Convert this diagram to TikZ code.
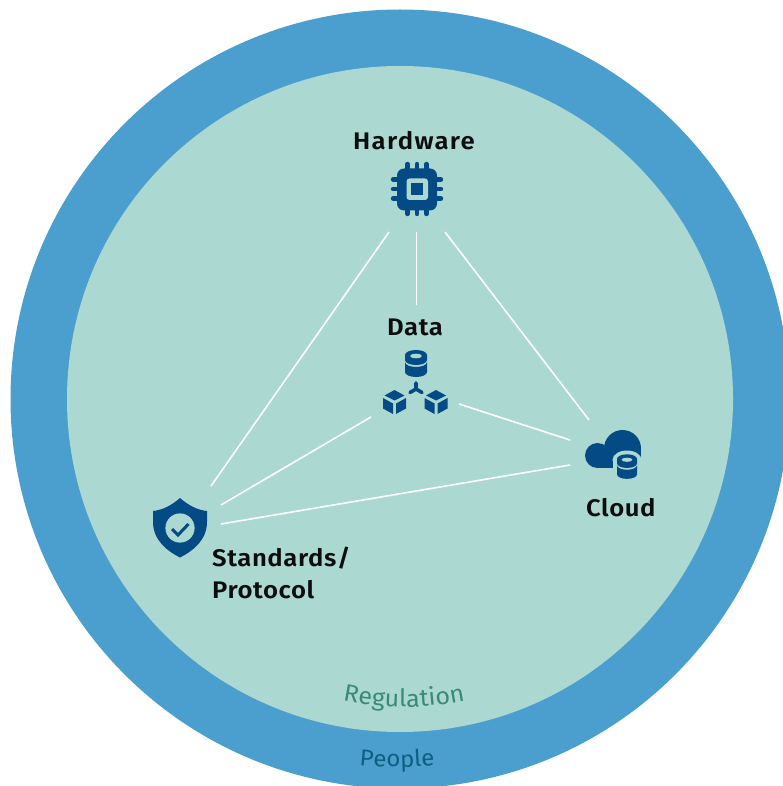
\documentclass[tikz,border=0pt]{standalone}
\usepackage{fontspec}
\setmainfont{Fira Sans}
\newfontfamily\lblfont[LetterSpace=2.5,FakeStretch=1.07]{Fira Sans SemiBold}
\newfontfamily\widelblfont[LetterSpace=5.5,FakeStretch=1.07]{Fira Sans SemiBold}
\newfontfamily\curvefont[FakeStretch=1.05]{Fira Sans}
\usetikzlibrary{decorations.text}
\definecolor{ringblue}{HTML}{4A9FCE}
\definecolor{innergreen}{HTML}{ABD9D1}
\definecolor{iconblue}{HTML}{044A85}
\definecolor{reggreen}{HTML}{3A8A78}
\definecolor{peopleblue}{HTML}{0F5F80}
\tikzset{
  link/.style={draw=white,line width=1.6pt},
  lbl/.style={anchor=base west,inner sep=0pt,text=black!95,font=\lblfont\fontsize{24}{28}\selectfont},
  widelbl/.style={lbl,font=\widelblfont\fontsize{24}{28}\selectfont},
  pin/.style={draw=iconblue,line width=4.4pt,line cap=round},
  icon/.style={fill=iconblue,draw=none},
  halo/.style={fill=innergreen,draw=none}
}
\newcommand{\dbicon}[3]{% x of centre, y of top, scale
  \begin{scope}[shift={(#1,#2)},scale=#3]
  \fill[iconblue] (-11,5) arc[start angle=180,end angle=360,x radius=11,y radius=5]
     -- (11,10) arc[start angle=0,end angle=180,x radius=11,y radius=5] -- cycle;
  \fill[innergreen] (0,6) ellipse[x radius=6,y radius=2.3];
  \fill[iconblue] (-11,12) arc[start angle=180,end angle=0,x radius=11,y radius=5]
     -- (11,22) arc[start angle=0,end angle=180,x radius=11,y radius=5] -- cycle;
  \end{scope}
}
\newcommand{\cubeicon}[2]{% centre x, y
  \fill[iconblue] (#1,#2-12) -- (#1+10,#2-6.5) -- (#1,#2-1.5) -- (#1-10,#2-6.5) -- cycle;
  \fill[iconblue] (#1-11.5,#2-4) -- (#1-1.5,#2+1.5) -- (#1-1.5,#2+12) -- (#1-11.5,#2+6.5) -- cycle;
  \fill[iconblue] (#1+11.5,#2-4) -- (#1+1.5,#2+1.5) -- (#1+1.5,#2+12) -- (#1+11.5,#2+6.5) -- cycle;
}
\begin{document}
\begin{tikzpicture}[x=1pt,y=-1pt]
\useasboundingbox (0,0) rectangle (783,786);
\clip (0,0) rectangle (783,786);
\fill[white] (0,0) rectangle (783,786);
\fill[ringblue] (400,399) circle[radius=389.5];
\fill[innergreen] (400,399) circle[radius=333];

% anchors of the connectors
\coordinate (hwA) at (389,232);
\coordinate (hwB) at (416.5,232);
\coordinate (hwC) at (445,232);
\coordinate (daT) at (416.5,305);
\coordinate (daL) at (371,417);
\coordinate (daR) at (459,404);
\coordinate (clT) at (589,420);
\coordinate (clL) at (570,440);
\coordinate (clB) at (570,465);
\coordinate (stT) at (211,486);
\coordinate (stM) at (221,505);
\coordinate (stB) at (221,524);
\draw[link] (hwA) -- (stT);
\draw[link] (hwB) -- (daT);
\draw[link] (hwC) -- (clT);
\draw[link] (daL) -- (stM);
\draw[link] (daR) -- (clL);
\draw[link] (clB) -- (stB);

% labels
\node[widelbl] (hardware) at (353,150) {Hardware};
\node[lbl] (data) at (387,335) {Data};
\node[lbl] (cloud) at (586,516) {Cloud};
\node[lbl] (standards) at (212,566) {Standards/};
\node[lbl] (protocol) at (212,598) {Protocol};

% chip icon
\foreach \d in {-9.5,0,9.5}{
  \draw[pin] (417+\d,164) -- (417+\d,214);
  \draw[pin] (393,189+\d) -- (441,189+\d);
}
\fill[icon,rounded corners=7pt] (397,168.5) rectangle (437,210.5);
\fill[halo,rounded corners=3pt] (406.5,178.5) rectangle (428,200);
\fill[icon] (411,183) rectangle (423,195.5);

% data icon
\dbicon{416}{350}{1}
\draw[iconblue,line width=3.6pt,line cap=round] (416,383) -- (416,389) (416,389) -- (410,392.5) (416,389) -- (422,392.5);
\cubeicon{394.5}{402}
\cubeicon{436}{402}

% shield icon
\fill[icon] (180,498) .. controls (172,505) and (163,510) .. (153,511)
  -- (153,522) .. controls (153,540) and (167,551) .. (180,557.5)
  .. controls (193,551) and (207,540) .. (207,522) -- (207,511)
  .. controls (197,510) and (188,505) .. (180,498) -- cycle;
\fill[halo] (180,528) circle[radius=14.6];
\draw[iconblue,line width=3pt] (172,529) -- (178,535) -- (188.5,524);

% cloud icon
\fill[icon] (597.5,455.5) circle[radius=12.5];
\fill[icon] (622.5,448.5) circle[radius=18.5];
\fill[icon] (597.5,448.5) rectangle (641,468);
\fill[halo] (627,460) ellipse[x radius=14.5,y radius=9.5];
\fill[halo] (612.5,460) rectangle (643,482);
\dbicon{627}{454.3}{0.91}

% curved labels
\path[decorate,decoration={text along path,text align=center,
  text={|\curvefont\fontsize{24}{28}\selectfont\color{reggreen}|Regulation}}]
  (324.5,696.5) .. controls (376.6,710.5) and (431.4,710.5) .. (483.5,696.5);
\path[decorate,decoration={text along path,text align=center,
  text={|\curvefont\fontsize{23}{28}\selectfont\color{peopleblue}|People}}]
  (301.8,754.5) .. controls (364.2,771.2) and (429.8,771.2) .. (492.2,754.5);
\end{tikzpicture}
\end{document}
